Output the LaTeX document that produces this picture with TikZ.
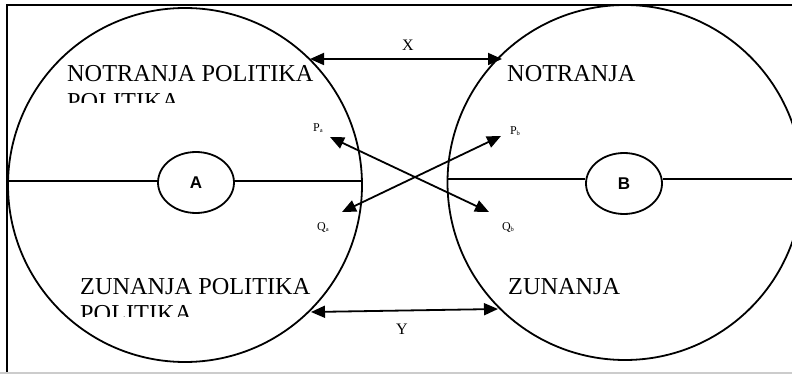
\documentclass[tikz,border=0pt]{standalone}
\usepackage{fontspec}
\setmainfont{Liberation Serif}
\newfontfamily\arialf{Liberation Sans}
\usetikzlibrary{arrows.meta,shapes.geometric}
\begin{document}
\begin{tikzpicture}[x=1pt,y=-1pt,
  ln/.style={line width=1.8pt},
  dbl/.style={ln,{Triangle[length=14pt,width=12pt]}-{Triangle[length=14pt,width=12pt]}},
  big/.style={inner sep=0pt,anchor=base west,font=\fontsize{24.3}{24.3}\selectfont},
  lab/.style={inner sep=0pt,font=\fontsize{16}{16}\selectfont},
  sml/.style={inner sep=0pt,font=\fontsize{12}{12}\selectfont},
  ell/.style={ln,draw,ellipse,minimum width=76pt,minimum height=61pt,inner sep=0pt,font=\arialf\bfseries\fontsize{17}{17}\selectfont}]
\useasboundingbox (0,0) rectangle (792,374);
% frame
\draw[line width=2pt] (7,372) -- (7,5) -- (792,5);
\draw[line width=1.5pt,gray!40] (0,372.8) -- (792,372.8);
% big circles
\draw[ln] (185,185) circle[radius=177];
\draw[ln] (625,182.5) circle[radius=177.5];
% small ellipses
\node[ell] (A) at (196,182.5) {\raisebox{-2pt}{A}};
\node[ell] (B) at (624,183.5) {\raisebox{-2pt}{B}};
% horizontal lines
\coordinate (al) at (8,181);
\coordinate (ar) at (362,181);
\coordinate (bl) at (448,179);
\coordinate (br) at (792,179);
\draw[ln] (al) -- (al -| A.west);
\draw[ln] (ar -| A.east) -- (ar);
\draw[ln] (bl) -- (bl -| B.west);
\draw[ln] (br -| B.east) -- (br);
% texts
\node[big] (t1) at (67,82) {NOTRANJA POLITIKA};
\begin{scope}
\clip (0,0) rectangle (400,103);
\node[big] (t1b) at (67,109.5) {POLITIKA};
\end{scope}
\node[big] (t2) at (80,294) {ZUNANJA POLITIKA};
\begin{scope}
\clip (0,200) rectangle (400,316.5);
\node[big] (t2b) at (80,321.5) {POLITIKA};
\end{scope}
\node[big] (t3) at (507,82) {NOTRANJA};
\node[big] (t4) at (508,294) {ZUNANJA};
% X and Y arrows
\coordinate (xl) at (310,59);
\coordinate (xr) at (502,59);
\coordinate (yl) at (311,312);
\coordinate (yr) at (498,309);
\draw[dbl] (xl) -- (xr);
\draw[dbl] (yl) -- (yr);
\node[lab] (X) at (408,45) {X};
\node[lab] (Y) at (402,329) {Y};
% cross arrows
\coordinate (pa) at (330,137);
\coordinate (qb) at (489,212);
\coordinate (qa) at (342,212);
\coordinate (pb) at (501,136);
\draw[dbl] (pa) -- (qb);
\draw[dbl] (qa) -- (pb);
\node[sml] (Pa) at (318,128) {P\raisebox{-1pt}{\fontsize{6.5}{6.5}\selectfont a}};
\node[sml] (Pb) at (515,131) {P\raisebox{-1pt}{\fontsize{6.5}{6.5}\selectfont b}};
\node[sml] (Qa) at (323,227) {Q\raisebox{-1pt}{\fontsize{6.5}{6.5}\selectfont a}};
\node[sml] (Qb) at (508,227) {Q\raisebox{-1pt}{\fontsize{6.5}{6.5}\selectfont b}};
\end{tikzpicture}
\end{document}
